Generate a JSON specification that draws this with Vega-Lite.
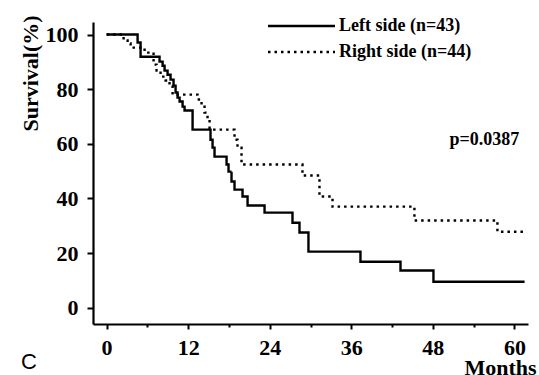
{
  "$schema": "https://vega.github.io/schema/vega-lite/v6.json",
  "width": 435,
  "height": 302,
  "autosize": {"type": "none"},
  "padding": {"left": 93, "top": 22, "right": 11, "bottom": 51},
  "background": "white",
  "config": {
    "view": {"stroke": null},
    "font": "Liberation Serif"
  },
  "datasets": {
    "km": [
      {"group": "Left side (n=43)", "month": 0, "surv": 100},
      {"group": "Left side (n=43)", "month": 4.56, "surv": 97.1},
      {"group": "Left side (n=43)", "month": 5.0, "surv": 91.9},
      {"group": "Left side (n=43)", "month": 7.79, "surv": 90.1},
      {"group": "Left side (n=43)", "month": 8.24, "surv": 88.6},
      {"group": "Left side (n=43)", "month": 8.53, "surv": 86.8},
      {"group": "Left side (n=43)", "month": 8.97, "surv": 85.3},
      {"group": "Left side (n=43)", "month": 9.41, "surv": 83.5},
      {"group": "Left side (n=43)", "month": 9.85, "surv": 81.3},
      {"group": "Left side (n=43)", "month": 10.15, "surv": 78.8},
      {"group": "Left side (n=43)", "month": 10.44, "surv": 76.9},
      {"group": "Left side (n=43)", "month": 10.74, "surv": 75.5},
      {"group": "Left side (n=43)", "month": 11.18, "surv": 73.6},
      {"group": "Left side (n=43)", "month": 11.47, "surv": 72.2},
      {"group": "Left side (n=43)", "month": 12.65, "surv": 65.2},
      {"group": "Left side (n=43)", "month": 15.29, "surv": 61.5},
      {"group": "Left side (n=43)", "month": 15.59, "surv": 58.6},
      {"group": "Left side (n=43)", "month": 15.88, "surv": 55.3},
      {"group": "Left side (n=43)", "month": 17.65, "surv": 52.4},
      {"group": "Left side (n=43)", "month": 17.94, "surv": 49.8},
      {"group": "Left side (n=43)", "month": 18.38, "surv": 46.2},
      {"group": "Left side (n=43)", "month": 18.82, "surv": 43.2},
      {"group": "Left side (n=43)", "month": 20.0, "surv": 40.7},
      {"group": "Left side (n=43)", "month": 20.74, "surv": 37.4},
      {"group": "Left side (n=43)", "month": 23.24, "surv": 34.8},
      {"group": "Left side (n=43)", "month": 27.35, "surv": 31.1},
      {"group": "Left side (n=43)", "month": 28.38, "surv": 27.5},
      {"group": "Left side (n=43)", "month": 29.7, "surv": 20.5},
      {"group": "Left side (n=43)", "month": 37.35, "surv": 16.8},
      {"group": "Left side (n=43)", "month": 43.24, "surv": 13.6},
      {"group": "Left side (n=43)", "month": 48.09, "surv": 9.5},
      {"group": "Left side (n=43)", "month": 61.5, "surv": 9.5},
      {"group": "Right side (n=44)", "month": 0, "surv": 100},
      {"group": "Right side (n=44)", "month": 2.5, "surv": 97.8},
      {"group": "Right side (n=44)", "month": 3.09, "surv": 96.7},
      {"group": "Right side (n=44)", "month": 3.53, "surv": 95.2},
      {"group": "Right side (n=44)", "month": 5.59, "surv": 93.4},
      {"group": "Right side (n=44)", "month": 6.91, "surv": 89.0},
      {"group": "Right side (n=44)", "month": 7.35, "surv": 86.8},
      {"group": "Right side (n=44)", "month": 7.94, "surv": 84.6},
      {"group": "Right side (n=44)", "month": 8.68, "surv": 83.2},
      {"group": "Right side (n=44)", "month": 9.26, "surv": 81.3},
      {"group": "Right side (n=44)", "month": 9.71, "surv": 78.0},
      {"group": "Right side (n=44)", "month": 13.38, "surv": 76.2},
      {"group": "Right side (n=44)", "month": 13.97, "surv": 74.0},
      {"group": "Right side (n=44)", "month": 14.41, "surv": 71.4},
      {"group": "Right side (n=44)", "month": 14.85, "surv": 68.9},
      {"group": "Right side (n=44)", "month": 15.15, "surv": 65.2},
      {"group": "Right side (n=44)", "month": 18.82, "surv": 61.5},
      {"group": "Right side (n=44)", "month": 19.26, "surv": 58.6},
      {"group": "Right side (n=44)", "month": 19.85, "surv": 52.4},
      {"group": "Right side (n=44)", "month": 28.82, "surv": 48.4},
      {"group": "Right side (n=44)", "month": 31.32, "surv": 40.7},
      {"group": "Right side (n=44)", "month": 33.24, "surv": 37.0},
      {"group": "Right side (n=44)", "month": 45.29, "surv": 31.9},
      {"group": "Right side (n=44)", "month": 57.5, "surv": 27.8},
      {"group": "Right side (n=44)", "month": 61.5, "surv": 27.8}
    ],
    "notes": [
      {"note": "p-value", "text": "p=0.0387"}
    ],
    "panel": [
      {"note": "panel", "text": "C"}
    ]
  },
  "layer": [
    {
      "data": {"name": "km"},
      "mark": {"type": "line", "interpolate": "step-after", "color": "black", "strokeWidth": 2.4, "strokeCap": "butt"},
      "encoding": {
        "x": {
          "field": "month", "type": "quantitative",
          "scale": {"domain": [-2, 62], "nice": false, "zero": false},
          "axis": {
            "values": [0, 3, 6, 9, 12, 15, 18, 21, 24, 27, 30, 33, 36, 39, 42, 45, 48, 51, 54, 57, 60],
            "labelExpr": "datum.value % 12 === 0 ? datum.label : ''",
            "grid": false,
            "domainColor": "black", "domainWidth": 2.2,
            "tickColor": "black", "tickWidth": 2,
            "tickSize": {"condition": {"test": "datum.value % 12 === 0", "value": 5}, "value": 3},
            "labelFont": "Liberation Serif", "labelFontWeight": "bold", "labelFontSize": 22, "labelColor": "black",
            "labelPadding": 8, "labelFlush": false,
            "title": "Months",
            "titleFont": "Liberation Serif", "titleFontWeight": "bold", "titleFontSize": 22, "titleColor": "black",
            "titleX": 443, "titleY": 50, "titleAlign": "right", "titleBaseline": "alphabetic"
          }
        },
        "y": {
          "field": "surv", "type": "quantitative",
          "scale": {"domain": [-6, 104.6], "nice": false, "zero": false},
          "axis": {
            "values": [0, 10, 20, 30, 40, 50, 60, 70, 80, 90, 100],
            "labelExpr": "datum.value % 20 === 0 ? datum.label : ''",
            "grid": false,
            "domainColor": "black", "domainWidth": 2.2,
            "tickColor": "black", "tickWidth": 2,
            "tickSize": {"condition": {"test": "datum.value % 20 === 0", "value": 6}, "value": 2},
            "labelFont": "Liberation Serif", "labelFontWeight": "bold", "labelFontSize": 22, "labelColor": "black",
            "labelPadding": 9,
            "title": "Survival(%)",
            "titleFont": "Liberation Serif", "titleFontWeight": "bold", "titleFontSize": 22, "titleColor": "black",
            "titleX": -56, "titleY": 51, "titleAlign": "center", "titleBaseline": "alphabetic", "titleAngle": -90
          }
        },
        "strokeDash": {
          "field": "group", "type": "nominal",
          "scale": {"domain": ["Left side (n=43)", "Right side (n=44)"], "range": [[1, 0], [2.5, 4]]},
          "legend": {
            "title": null,
            "orient": "none",
            "legendX": 233,
            "legendY": -5,
            "symbolType": "M-16.75,0H0",
            "symbolSize": 64,
            "symbolStrokeWidth": 2.3,
            "symbolStrokeColor": "black",
            "labelFont": "Liberation Serif", "labelFontWeight": "bold", "labelFontSize": 18, "labelColor": "black",
            "labelOffset": -5,
            "rowPadding": 8
          }
        }
      }
    },
    {
      "data": {"name": "notes"},
      "mark": {"type": "text", "align": "right", "baseline": "middle", "font": "Liberation Serif", "fontWeight": "bold", "fontSize": 18, "color": "black"},
      "encoding": {"text": {"field": "text"}, "x": {"datum": 60.7}, "y": {"datum": 61.5}}
    },
    {
      "data": {"name": "panel"},
      "mark": {"type": "text", "align": "left", "baseline": "alphabetic", "font": "Liberation Sans", "fontSize": 22, "color": "black"},
      "encoding": {"text": {"field": "text"}, "x": {"datum": -12.6}, "y": {"datum": -22.6}}
    }
  ]
}
